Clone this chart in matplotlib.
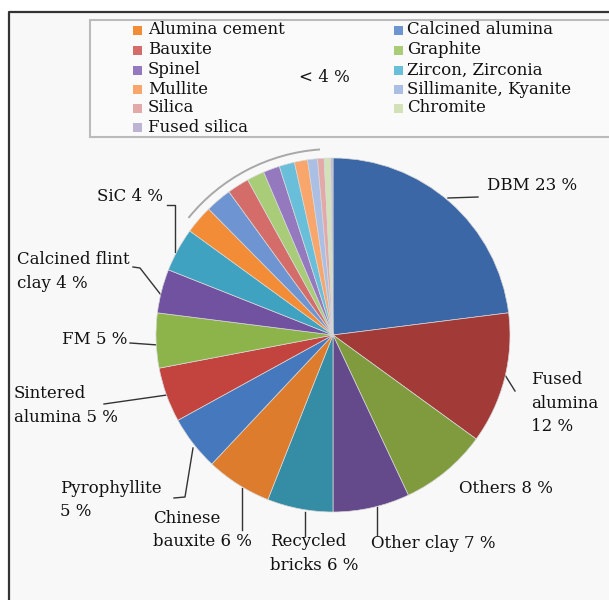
import matplotlib.pyplot as plt
from matplotlib.patches import Rectangle, Arc

# refractory raw materials, share of consumption (%)
materials = ["DBM", "Fused alumina", "Others", "Other clay", "Recycled bricks",
             "Chinese bauxite", "Pyrophyllite", "Sintered alumina", "FM",
             "Calcined flint clay", "SiC",
             "Alumina cement", "Calcined alumina", "Bauxite", "Graphite", "Spinel",
             "Zircon, Zirconia", "Mullite", "Sillimanite, Kyanite", "Silica",
             "Chromite", "Fused silica"]
shares = [23, 12, 8, 7, 6, 6, 5, 5, 5, 4, 4,
          2.6, 2.4, 2.0, 1.6, 1.5, 1.4, 1.2, 0.9, 0.6, 0.6, 0.2]
colors = ["#3B67A6", "#A23A37", "#7F9B3D", "#654A8B", "#358DA5", "#DD7C2D",
          "#4678BE", "#C3433F", "#8DB44B", "#7152A1", "#3EA2C0",
          "#F38C37", "#6E94D2", "#D46C6A", "#A9CC79", "#9479BE", "#69BFD9",
          "#F8A66C", "#AABFE3", "#E2A9A8", "#D3E1B9", "#BDB4D3"]

# labelled slices: text format and where the label sits (pixel coords, y down)
label_fmt = {
    "DBM": "DBM {} %",
    "Fused alumina": "Fused\nalumina\n{} %",
    "Others": "Others {} %",
    "Other clay": "Other clay {} %",
    "Recycled bricks": "Recycled\nbricks {} %",
    "Chinese bauxite": "Chinese\nbauxite {} %",
    "Pyrophyllite": "Pyrophyllite\n{} %",
    "Sintered alumina": "Sintered\nalumina {} %",
    "FM": "FM {} %",
    "Calcined flint clay": "Calcined flint\nclay {} %",
    "SiC": "SiC {} %",
}
label_pos = {
    "DBM": (487, 177), "Fused alumina": (531, 371), "Others": (459, 480),
    "Other clay": (371, 535), "Recycled bricks": (270, 533),
    "Chinese bauxite": (153, 510), "Pyrophyllite": (60, 480),
    "Sintered alumina": (14, 385), "FM": (62, 331),
    "Calcined flint clay": (17, 251), "SiC": (97, 188),
}
leaders = {
    "DBM": [(448, 198), (478, 197)],
    "Fused alumina": [(505, 375), (515, 391)],
    "Other clay": [(377, 507), (377, 535)],
    "Recycled bricks": [(305, 512), (305, 536)],
    "Chinese bauxite": [(242, 488), (242, 530)],
    "Pyrophyllite": [(193, 448), (185, 497), (174, 498)],
    "Sintered alumina": [(104, 404), (167, 395)],
    "FM": [(130, 343), (158, 345)],
    "Calcined flint clay": [(133, 267), (140, 268), (161, 295)],
    "SiC": [(167, 205), (175, 205), (175, 252)],
}

W, H = 609, 600
fig = plt.figure(figsize=(W / 100, H / 100), dpi=100)
fig.patch.set_facecolor("white")
ax = fig.add_axes([0, 0, 1, 1])
ax.set_xlim(0, W)
ax.set_ylim(H, 0)
ax.axis("off")

def py(y):
    return H - y

# panel background and frame
ax.add_patch(Rectangle((9, 12), W, H, facecolor="#F8F8F8", edgecolor="none", zorder=0))
ax.plot([9, 9, W], [H, 12, 12], color="#333333", lw=1.6, zorder=1)

# pie in its own axes using a y-up pixel frame
pax = fig.add_axes([0, 0, 1, 1])
pax.set_xlim(0, W)
pax.set_ylim(0, H)
pax.axis("off")
wedges, _ = pax.pie(shares, colors=colors, startangle=90, counterclock=False,
                    radius=177, center=(333, py(335)),
                    wedgeprops=dict(edgecolor="#D8D8D8", linewidth=0.5))
pax.set_xlim(0, W)
pax.set_ylim(0, H)

# bracket arc over the small slices
pax.add_patch(Arc((333, py(335)), 372, 372, theta1=94, theta2=141,
                  color="#A8A8A8", lw=1.4))

serif = "DejaVu Serif"
for name, v in zip(materials, shares):
    if name not in label_fmt:
        continue
    x, y = label_pos[name]
    ax.text(x, y, label_fmt[name].format(v), fontsize=12, family=serif,
            ha="left", va="top", linespacing=1.5, color="#111111")
    if name in leaders:
        xs, ys = zip(*leaders[name])
        ax.plot(xs, ys, color="#333333", lw=1.0)

# legend box for the slices below 4 %
ax.add_patch(Rectangle((90, 20), 540, 117, facecolor="#FAFAFA",
                       edgecolor="#BBBBBB", lw=1.5, zorder=2))
small = list(zip(materials[11:], colors[11:]))
left_col = small[0::2]
right_col = small[1::2]
row_y = [30, 50, 70, 89, 108, 127]
for col, (mx, tx) in zip([left_col, right_col], [(137, 148), (398, 407)]):
    for (name, c), y in zip(col, row_y):
        ax.add_patch(Rectangle((mx - 4.5, y - 4), 9, 9, facecolor=c,
                               edgecolor="none", zorder=3))
        ax.text(tx, y, name, fontsize=12, family=serif, ha="left",
                va="center", zorder=3, color="#111111")
ax.text(299, 78, "< 4 %", fontsize=12, family=serif, ha="left", va="center",
        zorder=3, color="#111111")

fig.savefig("out.png", dpi=100)
